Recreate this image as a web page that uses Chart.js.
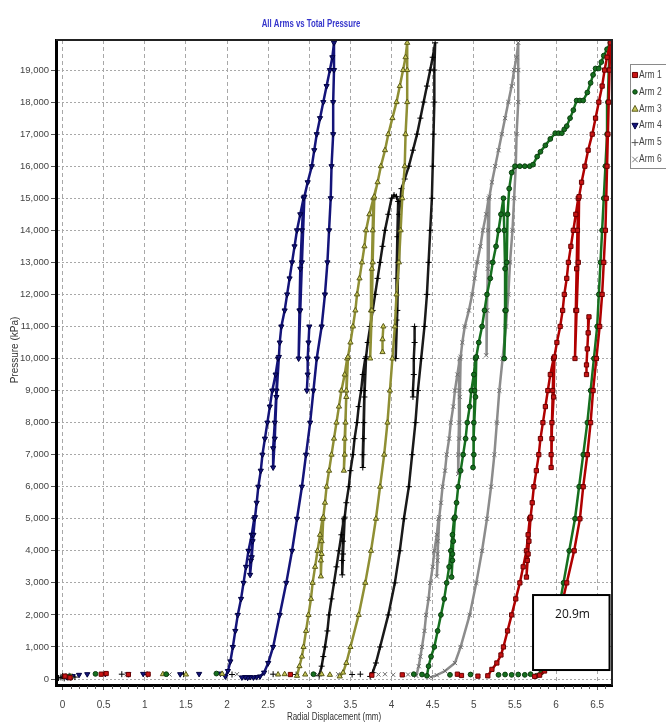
<!DOCTYPE html>
<html lang="en">
<head>
    <meta charset="UTF-8">
    <title>All Arms vs Total Pressure</title>
    <style>
        html, body {
            margin: 0;
            padding: 0;
            background: #fff;
            overflow: hidden;
        }
        #chartBox {
            width: 666px;
            height: 726px;
        }
    </style>
</head>
<body>
    <div id="chartBox">
        <canvas id="armChart" width="666" height="726"></canvas>
    </div>

    <script src="https://cdn.jsdelivr.net/npm/chart.js"></script>

    <script>
        // Radial displacement (mm) vs pressure (kPa), one path per arm
        const arm1Curve = [
            [5.17,100],[5.22,300],[5.28,500],[5.33,750],[5.36,1000],[5.41,1500],[5.46,2000],[5.51,2500],[5.56,3000],[5.60,3500],[5.64,4000],[5.66,4500],[5.68,5000],
            [5.67,4300],[5.65,3700],[5.64,3180],[5.66,3900],[5.69,5050],
            [5.71,5500],[5.73,6000],[5.76,6500],[5.79,7000],[5.81,7500],[5.84,8000],[5.87,8500],[5.90,9000],[5.93,9500],[5.97,10000],
            [5.96,9000],[5.95,8000],[5.94,7000],[5.94,6600],[5.95,7500],[5.97,8800],[5.98,10050],
            [6.01,10500],[6.05,11000],[6.08,11500],[6.10,12000],[6.13,12500],[6.15,13000],[6.18,13500],[6.21,14000],[6.24,14500],[6.27,15000],
            [6.26,14000],[6.25,12800],[6.24,11500],[6.23,10000],[6.25,11500],[6.27,13000],[6.28,15050],
            [6.31,15500],[6.35,16000],[6.39,16500],[6.44,17000],[6.48,17500],[6.52,18000],[6.56,18500],[6.59,19000],[6.62,19400],[6.66,19850],
            [6.65,19000],[6.64,18000],[6.63,17000],[6.62,16000],[6.61,15000],[6.60,14000],[6.58,13000],[6.56,12000],[6.53,11000],[6.49,10000],
            [6.45,9000],[6.42,8000],[6.38,7000],[6.33,6000],[6.29,5000],[6.22,4000],[6.13,3000],[6.04,2000],[5.95,1000],[5.90,500],[5.86,250],[5.80,120],[5.74,80]
        ];
        const arm2Curve = [
            [4.43,100],[4.45,400],[4.48,700],[4.52,1000],[4.56,1500],[4.60,2000],[4.64,2500],[4.67,3000],[4.70,3500],[4.72,4000],[4.74,4500],[4.76,5000],
            [4.75,4300],[4.74,3700],[4.73,3180],[4.74,3900],[4.77,5050],
            [4.79,5500],[4.81,6000],[4.84,6500],[4.87,7000],[4.90,7500],[4.92,8000],[4.95,8500],[4.97,9000],[5.00,9500],[5.02,10000],
            [5.01,9000],[5.00,8000],[5.00,7000],[4.99,6600],[5.00,7500],[5.02,8800],[5.03,10050],
            [5.06,10500],[5.10,11000],[5.13,11500],[5.16,12000],[5.20,12500],[5.23,13000],[5.27,13500],[5.30,14000],[5.33,14500],[5.36,15000],
            [5.37,14000],[5.38,12800],[5.38,11500],[5.37,10000],[5.39,11500],[5.40,13000],[5.41,14500],
            [5.43,15300],[5.46,15800],[5.50,16000],[5.56,16000],[5.62,16000],[5.68,16000],[5.72,16050],[5.77,16300],[5.81,16450],[5.87,16650],
            [5.93,16850],[5.99,17030],[6.03,17030],[6.07,17030],[6.10,17150],[6.13,17250],[6.17,17500],[6.21,17750],[6.25,18050],[6.29,18050],
            [6.33,18050],[6.38,18300],[6.42,18600],[6.45,18850],[6.48,19050],[6.52,19050],[6.55,19250],[6.58,19450],[6.62,19650],[6.66,19850],
            [6.64,19000],[6.63,18000],[6.62,17000],[6.60,16000],[6.58,15000],[6.56,14000],[6.54,13000],[6.52,12000],[6.50,11000],[6.46,10000],
            [6.42,9000],[6.38,8000],[6.33,7000],[6.28,6000],[6.23,5000],[6.16,4000],[6.09,3000],[6.02,2000],[5.94,1000],[5.88,500],[5.82,200],[5.76,100]
        ];
        const arm3Curve = [
            [2.85,100],[2.88,400],[2.91,700],[2.93,1000],[2.96,1500],[2.99,2000],[3.02,2500],[3.04,3000],[3.07,3500],[3.10,4000],[3.13,4500],[3.16,5000],
            [3.15,4300],[3.14,3700],[3.14,3200],[3.15,3900],[3.17,5050],
            [3.19,5500],[3.21,6000],[3.24,6500],[3.27,7000],[3.30,7500],[3.33,8000],[3.36,8500],[3.39,9000],[3.43,9500],[3.46,10000],
            [3.45,9000],[3.44,8000],[3.43,7000],[3.42,6500],[3.43,7500],[3.45,8800],[3.47,10050],
            [3.50,10500],[3.53,11000],[3.56,11500],[3.58,12000],[3.61,12500],[3.64,13000],[3.67,13500],[3.69,14000],[3.73,14500],[3.78,15000],
            [3.77,14000],[3.76,12800],[3.75,11500],[3.74,10000],[3.76,11500],[3.77,13000],[3.79,15050],
            [3.83,15500],[3.87,16000],[3.92,16500],[3.96,17000],[4.01,17500],[4.06,18000],[4.10,18500],[4.14,19000],[4.17,19400],[4.19,19850],
            [4.19,19000],[4.19,18000],[4.17,17000],[4.16,16000],[4.13,15000],[4.11,14000],[4.09,13000],[4.06,12000],[4.04,11000],[4.01,10000],
            [3.98,9000],[3.95,8000],[3.91,7000],[3.86,6000],[3.81,5000],[3.75,4000],[3.68,3000],[3.60,2000],[3.50,1000],[3.45,500],[3.41,200],[3.37,80]
        ];
        const arm4Curve = [
            [1.98,80],[2.01,250],[2.04,550],[2.07,1000],[2.10,1500],[2.13,2000],[2.17,2500],[2.20,3000],[2.23,3500],[2.26,4000],[2.30,4500],[2.33,5000],
            [2.31,4300],[2.29,3700],[2.28,3250],[2.30,3800],[2.32,4500],[2.34,5050],
            [2.36,5500],[2.38,6000],[2.41,6500],[2.43,7000],[2.46,7500],[2.49,8000],[2.52,8500],[2.55,9000],[2.59,9500],[2.62,10000],
            [2.60,9000],[2.58,8000],[2.56,7200],[2.56,6600],[2.58,7500],[2.60,8800],[2.63,10050],
            [2.64,10500],[2.66,11000],[2.70,11500],[2.73,12000],[2.76,12500],[2.79,13000],[2.82,13500],[2.85,14000],[2.89,14500],[2.93,15000],
            [2.91,14000],[2.89,12800],[2.88,11500],[2.87,10000],[2.89,11500],[2.91,13000],[2.94,15050],
            [2.98,15500],[3.03,16000],[3.06,16500],[3.09,17000],[3.13,17500],[3.17,18000],[3.21,18500],[3.25,19000],[3.28,19400],[3.30,19850],
            [3.30,19000],[3.29,18000],[3.29,17000],[3.27,16000],[3.26,15000],[3.24,14000],[3.22,13000],[3.19,12000],[3.15,11000],[3.09,10000],
            [3.05,9000],[3.01,8000],[2.96,7000],[2.91,6000],[2.85,5000],[2.79,4000],[2.72,3000],[2.64,2000],[2.56,1000],[2.50,500],[2.45,200],
            [2.40,80],[2.36,60],[2.32,50],[2.28,60],[2.25,40],[2.22,60],[2.18,50]
        ];
        const arm5Curve = [
            [3.12,100],[3.15,400],[3.17,700],[3.19,1000],[3.22,1500],[3.24,2000],[3.27,2500],[3.30,3000],[3.33,3500],[3.36,4000],[3.39,4500],[3.42,5000],
            [3.41,4300],[3.40,3700],[3.40,3250],[3.41,3900],[3.43,5050],
            [3.45,5500],[3.48,6000],[3.50,6500],[3.53,7000],[3.55,7500],[3.58,8000],[3.60,8500],[3.63,9000],[3.65,9500],[3.68,10000],
            [3.67,9000],[3.66,8000],[3.65,7000],[3.65,6600],[3.66,7500],[3.67,8800],[3.69,10050],
            [3.71,10500],[3.74,11000],[3.77,11500],[3.80,12000],[3.83,12500],[3.86,13000],[3.89,13500],[3.92,14000],[3.96,14500],[4.00,15000],
            [4.03,15100],[4.06,15050],[4.08,14900],
            [4.07,13800],[4.06,12500],[4.06,11200],[4.05,10000],[4.07,11500],[4.08,13000],[4.09,14500],[4.12,15300],
            [4.16,15600],[4.21,16000],[4.26,16500],[4.31,17000],[4.35,17500],[4.39,18000],[4.43,18500],[4.47,19000],[4.50,19400],[4.53,19850],
            [4.52,19000],[4.52,18000],[4.51,17000],[4.50,16000],[4.49,15000],[4.47,14000],[4.45,13000],[4.43,12000],[4.40,11000],[4.36,10000],
            [4.32,9000],[4.29,8000],[4.25,7000],[4.21,6000],[4.15,5000],[4.10,4000],[4.04,3000],[3.96,2000],[3.86,1000],[3.81,500],[3.77,200],[3.74,80]
        ];
        const arm6Curve = [
            [4.30,100],[4.33,400],[4.35,700],[4.37,1000],[4.40,1500],[4.42,2000],[4.45,2500],[4.47,3000],[4.50,3500],[4.52,4000],[4.55,4500],[4.57,5000],
            [4.56,4300],[4.56,3700],[4.55,3200],[4.56,3900],[4.58,5050],
            [4.60,5500],[4.62,6000],[4.65,6500],[4.67,7000],[4.70,7500],[4.72,8000],[4.75,8500],[4.77,9000],[4.80,9500],[4.83,10000],
            [4.82,9000],[4.82,8000],[4.81,7000],[4.81,6400],[4.82,7500],[4.83,8800],[4.84,10050],
            [4.86,10500],[4.89,11000],[4.94,11500],[4.98,12000],[5.01,12500],[5.04,13000],[5.08,13500],[5.11,14000],[5.15,14500],[5.18,15000],
            [5.17,14000],[5.17,12800],[5.16,11500],[5.15,10100],[5.16,11500],[5.18,13000],[5.19,15050],
            [5.22,15500],[5.26,16000],[5.30,16500],[5.34,17000],[5.38,17500],[5.42,18000],[5.46,18500],[5.49,19000],[5.52,19400],[5.54,19850],
            [5.54,19000],[5.54,18000],[5.52,17000],[5.51,16000],[5.49,15000],[5.47,14000],[5.44,13000],[5.42,12000],[5.39,11000],[5.35,10000],
            [5.31,9000],[5.28,8000],[5.25,7000],[5.21,6000],[5.16,5000],[5.10,4000],[5.03,3000],[4.95,2000],[4.84,1000],[4.77,500],[4.65,250],
            [4.55,120],[4.48,60]
        ];

        // short stray segments left between the reload and unload branches
        const arm1Spur = [[6.40,11300],[6.39,10800],[6.38,10300],[6.37,9800],[6.37,9500]];
        const arm2Spur = [];
        const arm3Spur = [[3.90,11000],[3.89,10600],[3.89,10200]];
        const arm4Spur = [[3.00,11000],[2.99,10500],[2.98,10000],[2.98,9500],[2.97,9000]];
        const arm5Spur = [[4.28,11000],[4.28,10500],[4.27,10000],[4.27,9500],[4.26,9000],[4.26,8800]];
        const arm6Spur = [];

        // loose readings lying along the zero line
        const arm1Dots = [[0.03,90],[0.09,40],[0.47,150],[0.53,170],[0.80,140],[1.04,150],[2.77,140],[3.76,120],[4.13,130],[4.80,150],[4.85,110],[5.05,90]];
        const arm2Dots = [[0.08,70],[0.40,160],[1.26,150],[1.87,170],[3.05,150],[4.27,150],[4.37,140],[4.71,130],[4.96,140],[5.30,130],[5.38,140],[5.46,130],[5.54,140],[5.62,130],[5.69,150]];
        const arm3Dots = [[0.10,80],[1.22,150],[1.50,140],[1.94,160],[2.62,140],[2.70,150],[2.95,140],[3.15,150],[3.25,130]];
        const arm4Dots = [[0.05,60],[0.12,90],[0.20,130],[0.30,150],[0.52,160],[0.80,150],[0.98,160],[1.43,150],[1.66,160],[1.92,170]];
        const arm5Dots = [[-0.05,30],[-0.02,50],[0.00,90],[0.02,20],[0.04,80],[0.06,50],[0.08,100],[0.10,40],[0.12,70],[0.15,60],
            [0.72,150],[1.03,140],[1.47,150],[2.06,140],[2.56,150],[2.84,140],[3.52,140],[3.62,150]];
        const arm6Dots = [[0.00,100],[0.78,150],[1.30,140],[2.12,150],[3.10,140],[3.35,150],[3.84,140],[3.92,150],[4.02,130],[4.20,140],[4.28,150]];

        const armNames = ['Arm 1', 'Arm 2', 'Arm 3', 'Arm 4', 'Arm 5', 'Arm 6'];
        const dispTicks = [0, 0.5, 1, 1.5, 2, 2.5, 3, 3.5, 4, 4.5, 5, 5.5, 6, 6.5];
        const pressureTicks = [0, 1000, 2000, 3000, 4000, 5000, 6000, 7000, 8000, 9000, 10000,
            11000, 12000, 13000, 14000, 15000, 16000, 17000, 18000, 19000];
        const chartTitle = 'All Arms vs Total Pressure';
        const xTitle = 'Radial Displacement (mm)';
        const yTitle = 'Pressure (kPa)';
        const noteText = '20.9m';

        // styling
        const armFill = ['#c81414', '#16701f', '#c8c85a', '#14147a', '#111111', '#9a9a9a'];
        const armEdge = ['#6a0000', '#0a3d0e', '#5a5a1a', '#000040', '#000000', '#6e6e6e'];
        const armLine = ['#b00000', '#16701f', '#8f8f34', '#14147a', '#1a1a1a', '#8c8c8c'];
        const armMarker = ['rect', 'circle', 'triangle', 'triangle', 'cross', 'crossRot'];
        const armTurn = [0, 0, 0, 180, 0, 0];
        const armSize = [3, 2.4, 3, 3, 3, 3];

        const textFont = "'Liberation Sans', Arial, sans-serif";

        const curves = [arm1Curve, arm2Curve, arm3Curve, arm4Curve, arm5Curve, arm6Curve];
        const spurs = [arm1Spur, arm2Spur, arm3Spur, arm4Spur, arm5Spur, arm6Spur];
        const dots = [arm1Dots, arm2Dots, arm3Dots, arm4Dots, arm5Dots, arm6Dots];

        function toPoints(list) {
            return list.map(p => ({ x: p[0], y: p[1] }));
        }

        const datasets = [];
        curves.forEach((curve, i) => {
            let pts = toPoints(curve);
            if (spurs[i].length) {
                // a null point breaks the line before the stray segment
                pts = pts.concat([{ x: null, y: null }], toPoints(spurs[i]));
            }
            const look = {
                pointStyle: armMarker[i],
                rotation: armTurn[i],
                pointRadius: armSize[i],
                pointHoverRadius: armSize[i],
                pointBackgroundColor: armFill[i],
                pointBorderColor: armEdge[i],
                pointBorderWidth: 1
            };
            datasets.push(Object.assign({
                label: armNames[i],
                data: pts,
                showLine: true,
                borderColor: armLine[i],
                borderWidth: 2.5,
                tension: 0
            }, look));
            datasets.push(Object.assign({
                label: armNames[i] + ' zero',
                data: toPoints(dots[i]),
                showLine: false
            }, look));
        });

        function drawMarker(ctx, i, x, y) {
            const r = armSize[i] + 0.4;
            ctx.save();
            ctx.fillStyle = armFill[i];
            ctx.strokeStyle = armEdge[i];
            ctx.lineWidth = 1;
            ctx.beginPath();
            const style = armMarker[i];
            if (style === 'rect') {
                ctx.rect(x - r * 0.75, y - r * 0.75, r * 1.5, r * 1.5);
                ctx.fill(); ctx.stroke();
            } else if (style === 'circle') {
                ctx.arc(x, y, r * 0.8, 0, Math.PI * 2);
                ctx.fill(); ctx.stroke();
            } else if (style === 'triangle') {
                const d = armTurn[i] ? -1 : 1;
                ctx.moveTo(x, y - d * r);
                ctx.lineTo(x + r * 0.9, y + d * r * 0.7);
                ctx.lineTo(x - r * 0.9, y + d * r * 0.7);
                ctx.closePath();
                ctx.fill(); ctx.stroke();
            } else if (style === 'cross') {
                ctx.strokeStyle = '#555';
                ctx.moveTo(x - r, y); ctx.lineTo(x + r, y);
                ctx.moveTo(x, y - r); ctx.lineTo(x, y + r);
                ctx.stroke();
            } else {
                ctx.strokeStyle = '#777';
                ctx.moveTo(x - r * 0.8, y - r * 0.8); ctx.lineTo(x + r * 0.8, y + r * 0.8);
                ctx.moveTo(x + r * 0.8, y - r * 0.8); ctx.lineTo(x - r * 0.8, y + r * 0.8);
                ctx.stroke();
            }
            ctx.restore();
        }

        // text squeezed sideways, as in the original export
        function narrowText(ctx, text, x, y, squeeze, align) {
            ctx.save();
            ctx.translate(x, y);
            ctx.scale(squeeze, 1);
            ctx.textAlign = align;
            ctx.fillText(text, 0, 0);
            ctx.restore();
        }

        // frame, minor ticks, note box, titles and legend
        const extrasPlugin = {
            id: 'extras',
            afterDatasetsDraw(chart) {
                const { ctx, chartArea: a, scales } = chart;
                ctx.save();
                ctx.strokeStyle = '#222';
                ctx.lineWidth = 2;
                ctx.beginPath();
                ctx.moveTo(a.left, a.top);
                ctx.lineTo(a.right, a.top);
                ctx.lineTo(a.right, a.bottom);
                ctx.stroke();

                // minor ticks below the x axis
                ctx.strokeStyle = '#555';
                ctx.lineWidth = 1;
                ctx.beginPath();
                for (let k = 1; k < 67; k++) {
                    if (k % 5 === 0) continue;
                    const px = Math.round(scales.x.getPixelForValue(k / 10)) + 0.5;
                    ctx.moveTo(px, a.bottom + 1);
                    ctx.lineTo(px, a.bottom + 4);
                }
                ctx.stroke();

                // depth note
                const bx = scales.x.getPixelForValue(5.72);
                const bx2 = scales.x.getPixelForValue(6.65);
                const by = scales.y.getPixelForValue(2620);
                const by2 = scales.y.getPixelForValue(280);
                ctx.fillStyle = '#fff';
                ctx.fillRect(bx, by, bx2 - bx, by2 - by);
                ctx.strokeStyle = '#000';
                ctx.lineWidth = 2;
                ctx.strokeRect(bx, by, bx2 - bx, by2 - by);
                ctx.fillStyle = '#111';
                ctx.font = "12px 'Open Sans', 'Noto Sans', sans-serif";
                ctx.textBaseline = 'middle';
                ctx.textAlign = 'left';
                ctx.fillText(noteText, bx + 22, by + 20);
                ctx.restore();
            },
            afterDraw(chart) {
                const { ctx, chartArea: a } = chart;
                ctx.save();
                ctx.textBaseline = 'middle';

                ctx.fillStyle = '#3535cc';
                ctx.font = 'bold 10px ' + textFont;
                narrowText(ctx, chartTitle, 311, 24, 0.78, 'center');

                ctx.fillStyle = '#333';
                ctx.font = '10px ' + textFont;
                narrowText(ctx, xTitle, (a.left + a.right) / 2, 717, 0.8, 'center');

                ctx.save();
                ctx.translate(15, 350);
                ctx.rotate(-Math.PI / 2);
                ctx.textAlign = 'center';
                ctx.fillText(yTitle, 0, 0);
                ctx.restore();

                // legend box, cut by the right edge like the original
                const left = 630, top = 64, gap = 16.9;
                ctx.strokeStyle = '#8a8a8a';
                ctx.lineWidth = 1;
                ctx.strokeRect(left + 0.5, top + 0.5, 60, 104);
                ctx.font = '10px ' + textFont;
                armNames.forEach((name, i) => {
                    const y = top + 11 + i * gap;
                    drawMarker(ctx, i, left + 5, y);
                    ctx.fillStyle = '#444';
                    narrowText(ctx, name, left + 9, y, 0.85, 'left');
                });
                ctx.restore();
            }
        };

        const ctx = document.getElementById('armChart').getContext('2d');
        const armChart = new Chart(ctx, {
            type: 'scatter',
            data: { datasets: datasets },
            options: {
                responsive: false,
                animation: false,
                layout: { padding: { top: 40, right: 54, left: 0, bottom: 0 } },
                plugins: {
                    legend: { display: false },
                    title: { display: false },
                    tooltip: { enabled: false }
                },
                scales: {
                    x: {
                        type: 'linear',
                        min: -0.08,
                        max: 6.68,
                        afterFit: function (scale) { scale.height = 41; },
                        afterBuildTicks: function (scale) {
                            scale.ticks = dispTicks.map(v => ({ value: v }));
                        },
                        border: { display: true, color: '#000', width: 3, dash: [4, 3] },
                        grid: { color: '#a8a8a8', lineWidth: 1, tickColor: '#555', tickLength: 5 },
                        ticks: {
                            color: '#444',
                            padding: 9,
                            maxRotation: 0,
                            autoSkip: false,
                            font: { family: textFont, size: 10 },
                            callback: function (value) { return String(value); }
                        }
                    },
                    y: {
                        type: 'linear',
                        min: -187,
                        max: 19938,
                        afterFit: function (scale) { scale.width = 56; },
                        afterBuildTicks: function (scale) {
                            scale.ticks = pressureTicks.map(v => ({ value: v }));
                        },
                        border: { display: true, color: '#000', width: 3, dash: [2, 2] },
                        grid: { color: '#a8a8a8', lineWidth: 1, tickColor: '#555', tickLength: 5 },
                        ticks: {
                            color: '#444',
                            padding: 2,
                            autoSkip: false,
                            font: { family: textFont, size: 9.5 },
                            callback: function (value) { return value.toLocaleString('en-US'); }
                        }
                    }
                }
            },
            plugins: [extrasPlugin]
        });
    </script>
</body>
</html>
